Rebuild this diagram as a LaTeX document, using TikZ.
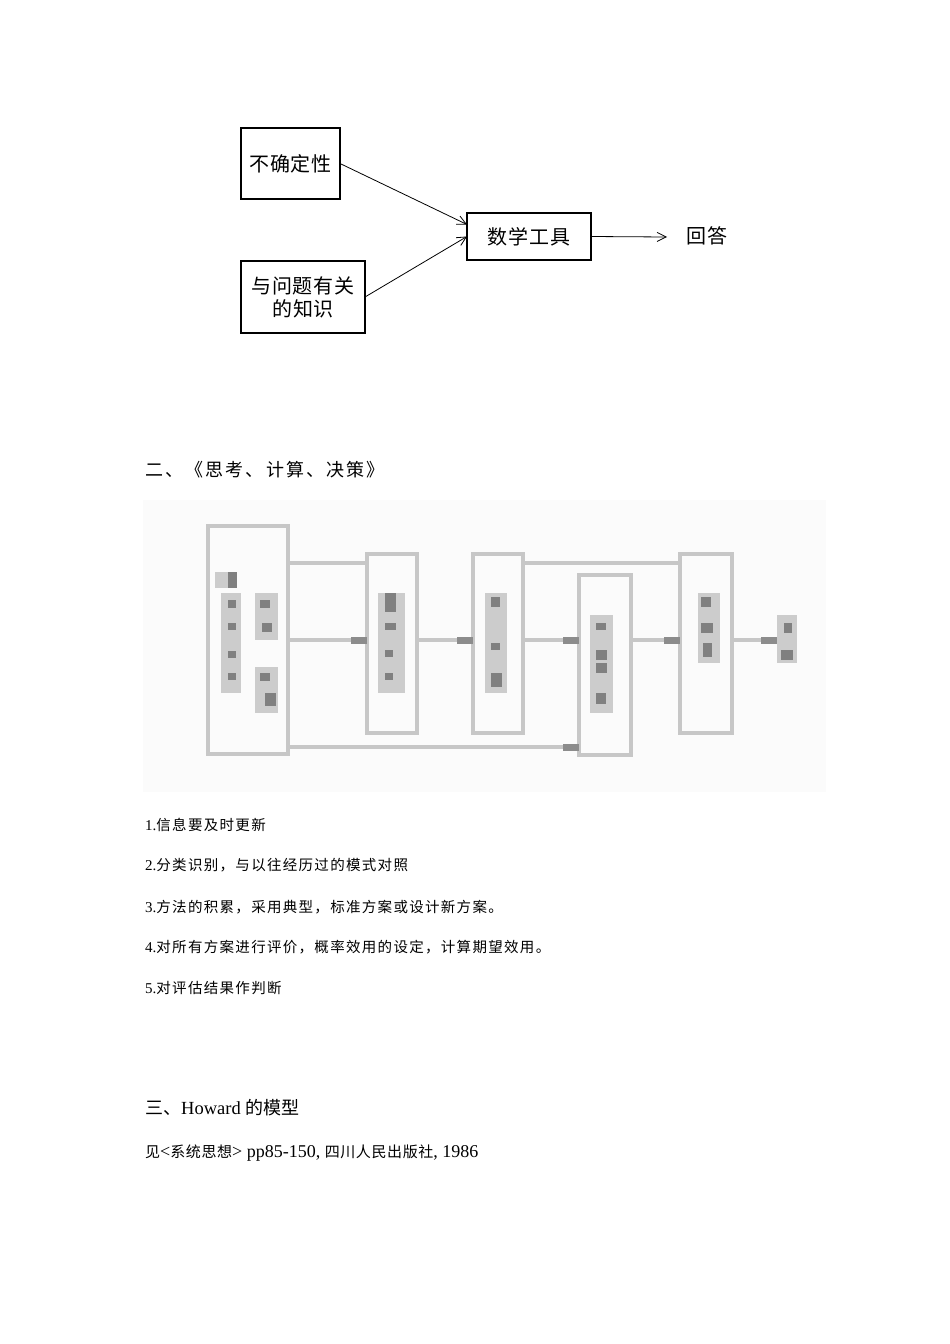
\documentclass[tikz,border=0pt]{standalone}
\usepackage{fontspec}
\setmainfont{Liberation Serif}
\newfontfamily\cjk{Noto Sans CJK SC}
\newfontfamily\cjkA[LetterSpace=12]{Noto Sans CJK SC}
\newfontfamily\cjkB[LetterSpace=9]{Noto Sans CJK SC}
\newfontfamily\cjkC[LetterSpace=4]{Noto Sans CJK SC}
\usetikzlibrary{arrows.meta}
\newcommand\tcol[4]{\fill[black!20] (#1,#3) rectangle (#2,#4);}
\newcommand\tdot[4]{\fill[black!50] (#1,#3) rectangle (#2,#4);}
\begin{document}
\begin{tikzpicture}[x=1pt,y=-1pt,
  box/.style={draw, line width=1.2pt, inner sep=0pt, outer sep=0pt, align=center,
    font=\cjkC\fontsize{20}{23}\selectfont},
  arr/.style={line width=0.8pt, -{Straight Barb[length=9pt,width=9pt]}},
  gbox/.style={draw=black!22, line width=4.5pt, inner sep=0pt, outer sep=0pt},
  gline/.style={draw=black!22, line width=4.5pt},
  garr/.style={gline, -{Rectangle[length=16pt,width=7pt,color=black!45]}},
  ptxt/.style={anchor=west, inner sep=0pt}]
\useasboundingbox[fill=white] (0,0) rectangle (950,1344);

% ---------- top diagram ----------
\node[box, minimum width=99pt, minimum height=71pt] (unc) at (290.5,163.5) {不确定性};
\node[box, minimum width=124pt, minimum height=72pt] (know) at (303,297) {与问题有关\\的知识};
\node[box, minimum width=124pt, minimum height=47pt] (math) at (529,236.5) {数学工具};
\coordinate (ansend) at (667,237);
\node[inner sep=0pt, font=\cjkC\fontsize{20}{23}\selectfont] (ans) at (707,236) {回答};
\draw[arr] (unc.east) -- ([yshift=12pt]math.west);
\draw[arr] (know.east) -- (math.west);
\draw[arr] (math.east) -- (ansend);

% ---------- heading 2 ----------
\node[ptxt, font=\cjkA\fontsize{18}{21}\selectfont] (h2) at (145,470) {二、《思考、计算、决策》};

% ---------- middle (blurred) diagram ----------
\fill[black!1.5] (143,500) rectangle (826,792);
\node[gbox, minimum width=80pt, minimum height=228pt] (A) at (248,640) {};
\node[gbox, minimum width=50pt, minimum height=179pt] (B) at (392,643.5) {};
\node[gbox, minimum width=50pt, minimum height=179pt] (C) at (498,643.5) {};
\node[gbox, minimum width=52pt, minimum height=180pt] (D) at (605,665) {};
\node[gbox, minimum width=52pt, minimum height=179pt] (E) at (706,643.5) {};
\node[inner sep=0pt, minimum width=20pt, minimum height=48pt] (F) at (787,639) {};
\coordinate (yT) at (0,563);
\coordinate (yM) at (0,640);
\coordinate (yB) at (0,747);
\draw[gline] (A.east |- yT) -- (B.west |- yT);
\draw[gline] (C.east |- yT) -- (E.west |- yT);
\draw[garr] (A.east |- yM) -- (B.west |- yM);
\draw[garr] (B.east |- yM) -- (C.west |- yM);
\draw[garr] (C.east |- yM) -- (D.west |- yM);
\draw[garr] (D.east |- yM) -- (E.west |- yM);
\draw[garr] (E.east |- yM) -- (F.west |- yM);
\draw[garr] (A.east |- yB) -- (D.west |- yB);
% pixelated labels
\tcol{215}{237}{572}{588}\tdot{228}{237}{572}{588}
\tcol{221}{241}{593}{693}
\tdot{228}{236}{600}{608}\tdot{228}{236}{623}{630}\tdot{228}{236}{651}{658}\tdot{228}{236}{673}{680}
\tcol{255}{278}{593}{640}\tdot{260}{270}{600}{608}\tdot{262}{272}{623}{632}
\tcol{255}{278}{667}{713}\tdot{260}{270}{673}{681}\tdot{265}{276}{693}{706}
\tcol{378}{405}{593}{693}
\tdot{385}{396}{593}{612}\tdot{385}{396}{623}{630}\tdot{385}{393}{650}{657}\tdot{385}{393}{673}{680}
\tcol{485}{507}{593}{693}
\tdot{491}{500}{597}{607}\tdot{491}{500}{643}{650}\tdot{491}{502}{673}{687}
\tcol{590}{613}{615}{713}
\tdot{596}{606}{623}{630}\tdot{596}{607}{650}{660}\tdot{596}{607}{663}{673}\tdot{596}{606}{693}{704}
\tcol{698}{720}{593}{663}
\tdot{701}{711}{597}{607}\tdot{701}{713}{623}{633}\tdot{703}{712}{643}{657}
\tcol{777}{797}{615}{663}
\tdot{784}{792}{623}{633}\tdot{781}{793}{650}{660}

% ---------- list ----------
\node[ptxt, font=\fontsize{15}{18}\selectfont] (l1) at (145,825) {1.{\cjkB\fontsize{14.5}{17}\selectfont 信息要及时更新}};
\node[ptxt, font=\fontsize{15}{18}\selectfont] (l2) at (145,865) {2.{\cjkB\fontsize{14.5}{17}\selectfont 分类识别，与以往经历过的模式对照}};
\node[ptxt, font=\fontsize{15}{18}\selectfont] (l3) at (145,907) {3.{\cjkB\fontsize{14.5}{17}\selectfont 方法的积累，采用典型，标准方案或设计新方案。}};
\node[ptxt, font=\fontsize{15}{18}\selectfont] (l4) at (145,947) {4.{\cjkB\fontsize{14.5}{17}\selectfont 对所有方案进行评价，概率效用的设定，计算期望效用。}};
\node[ptxt, font=\fontsize{15}{18}\selectfont] (l5) at (145,988) {5.{\cjkB\fontsize{14.5}{17}\selectfont 对评估结果作判断}};

% ---------- heading 3 ----------
\node[ptxt, font=\fontsize{18.5}{22}\selectfont] (h3) at (145,1108) {{\cjk\fontsize{18}{22}\selectfont 三、}Howard {\cjk\fontsize{18}{22}\selectfont 的模型}};
\node[ptxt, font=\fontsize{18}{21}\selectfont] (ref) at (145,1153) {{\cjkC\fontsize{15}{18}\selectfont 见}<{\cjkC\fontsize{15}{18}\selectfont 系统思想}> pp85-150, {\cjkC\fontsize{15}{18}\selectfont 四川人民出版社}, 1986};
\end{tikzpicture}
\end{document}
